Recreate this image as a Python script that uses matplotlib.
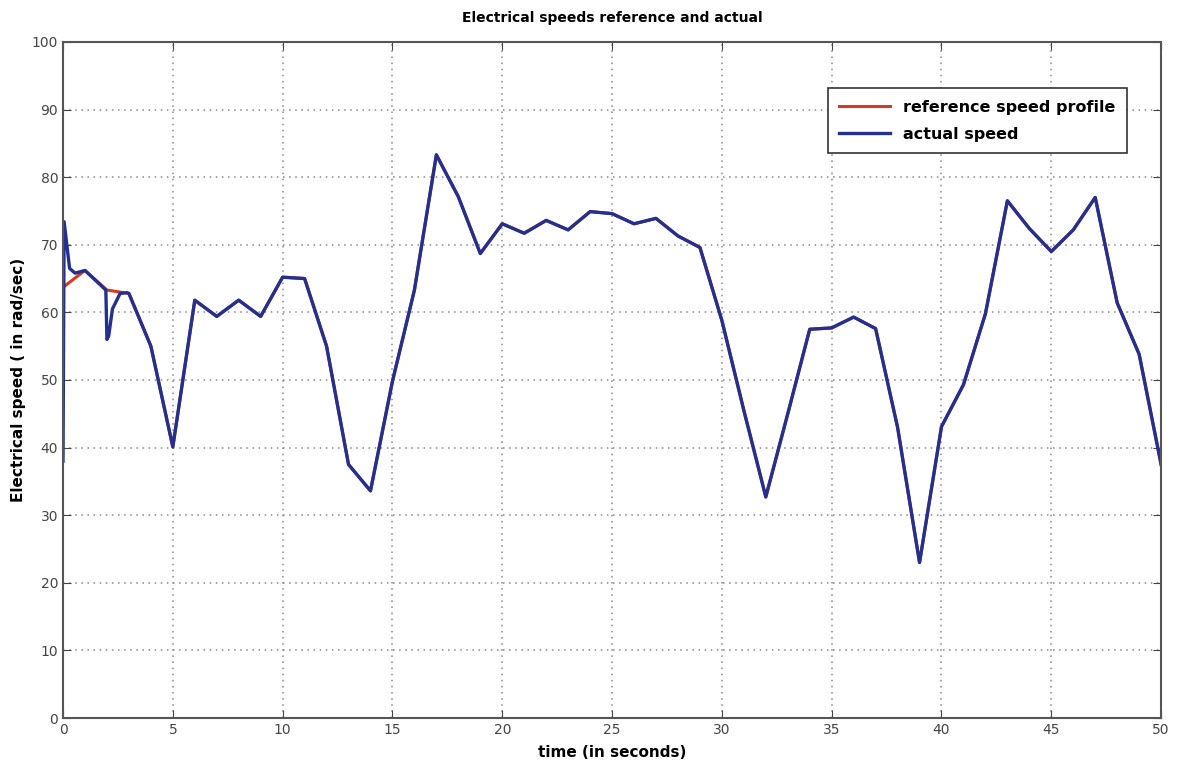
import numpy as np
import matplotlib
matplotlib.use("Agg")
import matplotlib.pyplot as plt

## reference speed profile, one value per second
ref_t = list(range(0, 51))
ref_speed = [63.7, 66.2, 63.3, 62.8, 55.0, 40.1, 61.8, 59.4, 61.8, 59.4,
             65.2, 65.0, 55.0, 37.5, 33.6, 49.8, 63.3, 83.3, 77.1, 68.7,
             73.1, 71.7, 73.6, 72.2, 74.9, 74.6, 73.1, 73.9, 71.3, 69.6,
             58.8, 45.5, 32.7, 45.0, 57.5, 57.7, 59.3, 57.6, 43.0, 23.0,
             43.1, 49.3, 59.8, 76.5, 72.4, 69.0, 72.2, 77.0, 61.4, 53.8,
             37.5]

## actual speed: start-up transient then it follows the reference
trans_t = [0.0, 0.05, 0.3, 0.55, 1.0, 1.95, 2.0, 2.08, 2.25, 2.6, 2.9]
trans_speed = [38.0, 73.4, 66.5, 65.8, 66.2, 63.3, 56.0, 56.5, 60.5, 62.8, 62.9]
act_t = trans_t + ref_t[3:]
act_speed = trans_speed + ref_speed[3:]

fig = plt.figure(figsize=(11.8, 7.76), dpi=100)
ax = fig.add_axes([0.0534, 0.0747, 0.9306, 0.8713])

ax.plot(ref_t, ref_speed, color="#d63a22", lw=2.2, label="reference speed profile")
ax.plot(act_t, act_speed, color="#23308f", lw=2.4, label="actual speed")

ax.set_xlim(0, 50)
ax.set_ylim(0, 100)
ax.set_xticks(np.arange(0, 51, 5))
ax.set_yticks(np.arange(0, 101, 10))
ax.grid(True, linestyle=(0, (1, 3)), color="#888888", lw=1.1)
ax.tick_params(direction="in", top=True, right=True, length=6, labelsize=10, colors="#444444")
for s in ax.spines.values():
    s.set_color("#555555")
    s.set_linewidth(1.5)

ax.set_title("Electrical speeds reference and actual", fontsize=10, fontweight="bold", pad=14)
ax.set_xlabel("time (in seconds)", fontsize=11, fontweight="bold", labelpad=6)
ax.set_ylabel("Electrical speed ( in rad/sec)", fontsize=11, fontweight="bold", labelpad=4)

leg = ax.legend(loc="upper right", bbox_to_anchor=(0.976, 0.943), fancybox=False,
                framealpha=1, edgecolor="#333333", prop={"weight": "bold", "size": 11.5},
                handlelength=3.2, borderpad=0.7, labelspacing=0.75)
leg.get_frame().set_linewidth(1.2)

fig.savefig("out.png", dpi=100)
